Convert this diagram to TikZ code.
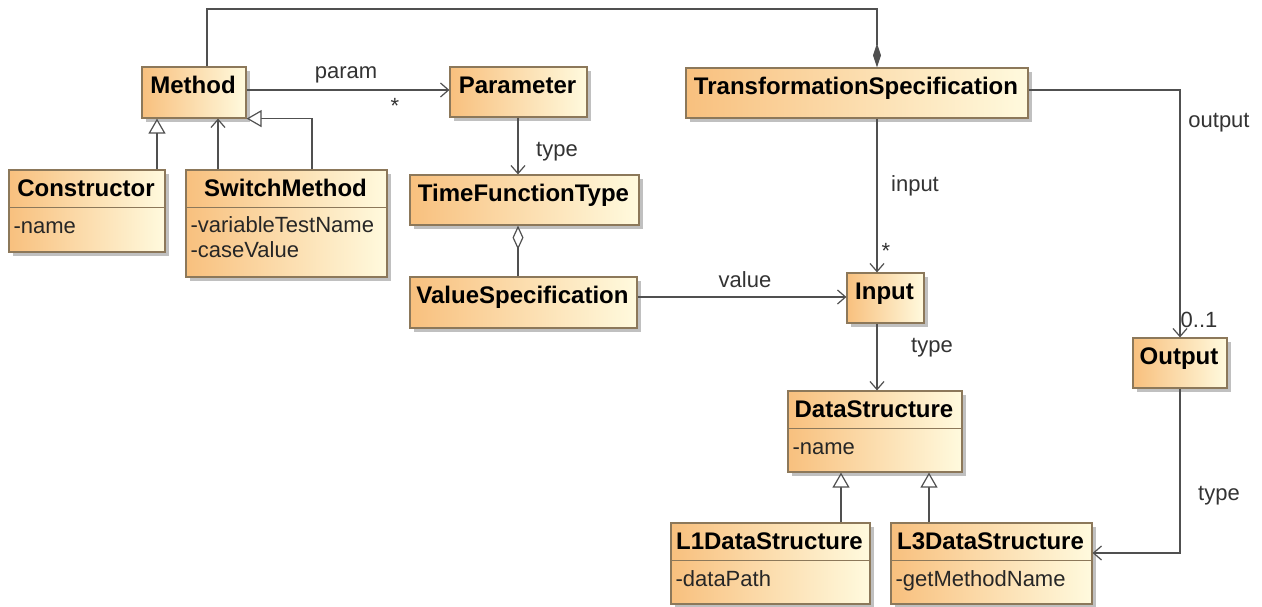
\documentclass[tikz,border=0pt]{standalone}
\usepackage{fontspec}
\setmainfont{Liberation Sans}
\usetikzlibrary{arrows.meta,calc,shadows}
\definecolor{clsleft}{RGB}{248,192,126}
\definecolor{clsright}{RGB}{255,250,222}
\definecolor{clsborder}{RGB}{140,120,90}
\definecolor{linec}{RGB}{80,80,80}
\tikzset{
 cls/.style={draw=clsborder, line width=1.2pt, left color=clsleft, right color=clsright,
   drop shadow={shadow xshift=4pt, shadow yshift=-4pt, fill=black!35, opacity=0.7},
   inner sep=0pt, rectangle},
 ttl/.style={font=\fontsize{24}{28}\selectfont\bfseries, text=black, inner sep=0pt},
 attr/.style={font=\fontsize{22}{26}\selectfont, text=black!85, inner sep=0pt},
 lbl/.style={font=\fontsize{22}{26}\selectfont, text=black!80, inner sep=0pt},
 conn/.style={draw=linec, line width=1.3pt},
 nav/.style={conn, -{Straight Barb[length=8pt,width=14pt,line width=1.2pt]}},
 gen/.style={conn, -{Triangle[open,length=15pt,width=17pt,fill=white,line width=1.2pt]}},
 comp/.style={conn, -{Diamond[length=24pt,width=8pt]}},
 aggr/.style={conn, -{Diamond[open,length=24pt,width=11pt,fill=white,line width=1.2pt]}},
}
\newcommand{\clsbox}[5]{%
  \node[cls, minimum width=#3pt, minimum height=#4pt] (#1) at #2 {};
  \node[ttl, anchor=base] (#1-t) at ($(#1.north)+(-1pt,-27pt)$) {#5};}
\newcommand{\clsdiv}[2]{%
  \draw[draw=clsborder, line width=1.2pt] ($(#1.north west)+(0pt,-#2pt)$) -- ($(#1.north east)+(0pt,-#2pt)$);}
\newcommand{\clsattr}[4]{%
  \node[attr, anchor=base west] (#2) at ($(#1.north west)+(5pt,-#3pt)$) {#4};}
\begin{document}
\begin{tikzpicture}[x=1pt,y=-1pt]
\fill[white] (0,0) rectangle (1262,607);
\useasboundingbox (0,0) rectangle (1262,607);

% classes
\clsbox{method}{(194,92.5)}{104}{51}{Method}
\clsbox{constructor}{(87,211)}{156}{82}{Constructor}
\clsdiv{constructor}{38}
\clsattr{constructor}{constructor-a1}{64}{-name}
\clsbox{switch}{(286.5,223.5)}{201}{107}{SwitchMethod}
\clsdiv{switch}{38}
\clsattr{switch}{switch-a1}{63}{-variableTestName}
\clsattr{switch}{switch-a2}{88}{-caseValue}
\clsbox{parameter}{(518.5,92)}{137}{50}{Parameter}
\clsbox{tst}{(857,93)}{342}{50}{TransformationSpecification}
\clsbox{tft}{(524.5,200)}{229}{50}{TimeFunctionType}
\clsbox{vs}{(523.5,302.5)}{227}{51}{ValueSpecification}
\clsbox{input}{(885.5,298)}{77}{50}{Input}
\clsbox{output}{(1180,363)}{94}{50}{Output}
\clsbox{ds}{(875,431.5)}{174}{81}{DataStructure}
\clsdiv{ds}{38}
\clsattr{ds}{ds-a1}{64}{-name}
\clsbox{l1}{(770.5,563.5)}{199}{81}{L1DataStructure}
\clsdiv{l1}{38}
\clsattr{l1}{l1-a1}{64}{-dataPath}
\clsbox{l3}{(991.5,563.5)}{201}{81}{L3DataStructure}
\clsdiv{l3}{38}
\clsattr{l3}{l3-a1}{64}{-getMethodName}

% helper coordinates
\coordinate (topy) at (0,9);
\coordinate (mx) at (207,0);
\coordinate (cx) at (877,0);
\coordinate (c1x) at (157,0);
\coordinate (s1x) at (218,0);
\coordinate (s2x) at (312,0);
\coordinate (px) at (518,0);
\coordinate (g1x) at (841,0);
\coordinate (g3x) at (929,0);
\coordinate (l3y) at (0,553);
\coordinate (my) at (0,90);
\coordinate (vy) at (0,297);

% connectors
\draw[comp] (method.north -| mx) |- (topy -| cx) -- (tst.north -| cx);
\draw[nav] (my -| method.east) -- (my -| parameter.west);
\draw[nav] (parameter.south -| px) -- (tft.north -| px);
\draw[aggr] (vs.north -| px) -- (tft.south -| px);
\draw[nav] (vy -| vs.east) -- (vy -| input.west);
\draw[nav] (tst.south -| cx) -- (input.north -| cx);
\draw[nav] (my -| tst.east) -| (output.north);
\draw[nav] (input.south -| cx) -- (ds.north -| cx);
\draw[gen] (l1.north -| g1x) -- (ds.south -| g1x);
\draw[gen] (l3.north -| g3x) -- (ds.south -| g3x);
\draw[nav] (output.south) |- (l3.east |- l3y);
\draw[gen] (constructor.north -| c1x) -- (method.south -| c1x);
\draw[nav] (switch.north -| s1x) -- (method.south -| s1x);
\draw[gen] (switch.north -| s2x) |- (method.south east);

% labels
\node[lbl] (l-param) at (346,75) {param};
\node[lbl] (l-pstar) at (395,106) {*};
\node[lbl] (l-type1) at (557,152) {type};
\node[lbl] (l-value) at (745,280) {value};
\node[lbl] (l-input) at (915,186) {input};
\node[lbl] (l-istar) at (886,251) {*};
\node[lbl] (l-output) at (1219,123) {output};
\node[lbl] (l-mult) at (1199,320) {0..1};
\node[lbl] (l-type2) at (932,348) {type};
\node[lbl] (l-type3) at (1219,496) {type};
\end{tikzpicture}
\end{document}
